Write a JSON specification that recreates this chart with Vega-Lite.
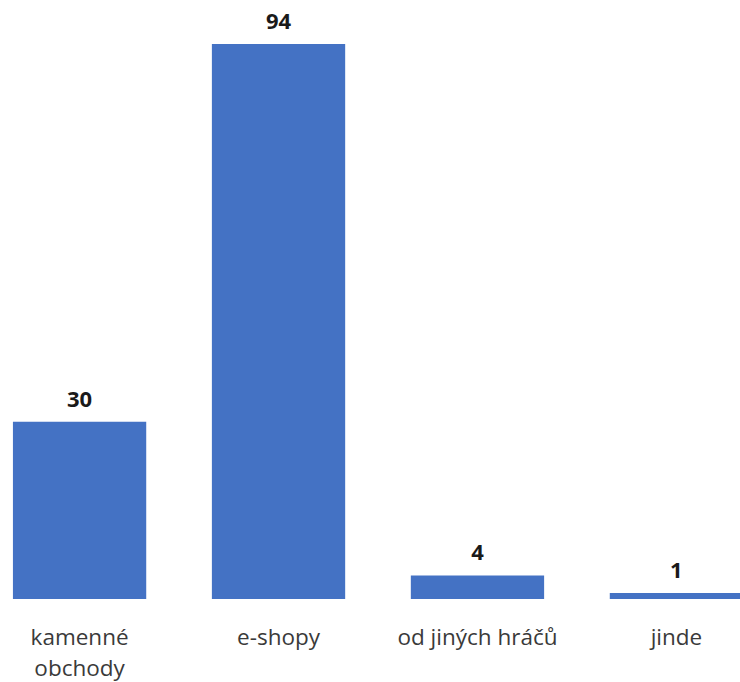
{
  "$schema": "https://vega.github.io/schema/vega-lite/v6.json",
  "autosize": {"type": "none"},
  "width": 740,
  "height": 555,
  "padding": {"left": 0, "top": 44, "right": 0, "bottom": 83},
  "background": "white",
  "config": {"view": {"stroke": null}},
  "data": {
    "values": [
      {"misto": "kamenné obchody", "pocet": 30},
      {"misto": "e-shopy", "pocet": 94},
      {"misto": "od jiných hráčů", "pocet": 4},
      {"misto": "jinde", "pocet": 1}
    ]
  },
  "encoding": {
    "x": {
      "field": "misto",
      "type": "nominal",
      "sort": null,
      "title": null,
      "scale": {"range": [0, 756], "paddingInner": 0.33, "paddingOuter": 0.065},
      "axis": {
        "domain": false,
        "ticks": false,
        "grid": false,
        "labelAngle": 0,
        "labelFont": "Open Sans",
        "labelFontSize": 22.5,
        "labelColor": "#3a3a3a",
        "labelBaseline": "alphabetic",
        "labelPadding": 45,
        "labelLineHeight": 31,
        "labelLimit": 300,
        "labelExpr": "datum.label == 'kamenné obchody' ? split(datum.label, ' ') : datum.label"
      }
    },
    "y": {
      "field": "pocet",
      "type": "quantitative",
      "scale": {"domain": [0, 94], "nice": false},
      "axis": null
    }
  },
  "layer": [
    {"mark": {"type": "bar", "color": "#4472C4"}},
    {
      "mark": {
        "type": "text",
        "baseline": "alphabetic",
        "dy": -15,
        "font": "Open Sans",
        "fontSize": 22,
        "fontWeight": "bold",
        "color": "#1a1a1a"
      },
      "encoding": {"text": {"field": "pocet", "type": "quantitative"}}
    }
  ]
}
